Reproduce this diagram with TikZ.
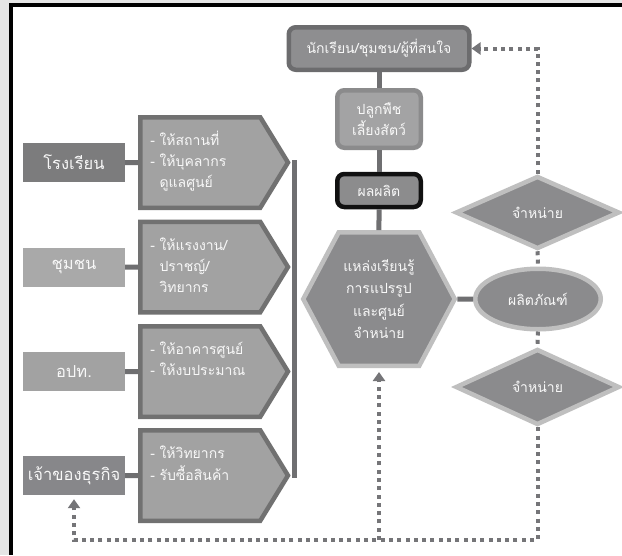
\documentclass[tikz,border=0pt]{standalone}
\usepackage{fontspec}
\newfontfamily\thai[Script=Thai]{Loma}
\usetikzlibrary{shapes.symbols,shapes.geometric,arrows.meta}
\definecolor{bgG}{HTML}{E5E5E5}
\definecolor{cTopF}{HTML}{8E8E90}
\definecolor{cTopD}{HTML}{6C6C6E}
\definecolor{cPlantF}{HTML}{A3A3A4}
\definecolor{cPlantD}{HTML}{8B8B8C}
\definecolor{cProdF}{HTML}{8C8C8D}
\definecolor{cProdD}{HTML}{111111}
\definecolor{cMainF}{HTML}{8B8B8D}
\definecolor{cMainD}{HTML}{BFBFBF}
\definecolor{cPentF}{HTML}{A2A2A2}
\definecolor{cPentD}{HTML}{717171}
\definecolor{cSchool}{HTML}{7C7C7D}
\definecolor{cComm}{HTML}{A9A9A9}
\definecolor{cLao}{HTML}{A2A2A2}
\definecolor{cBiz}{HTML}{87878A}
\definecolor{cConn}{HTML}{6F6F71}
\definecolor{cDot}{HTML}{757578}
\definecolor{cTxt}{HTML}{F8F8F8}
\begin{document}
\begin{tikzpicture}[x=1pt,y=-1pt,
  txt/.style={font=\thai\fontsize{14}{21}\selectfont, text=cTxt, align=center, inner sep=0pt},
  rbox/.style={txt, rounded corners=7pt, line width=4.5pt},
  topbox/.style={rbox, draw=cTopD, fill=cTopF},
  plantbox/.style={rbox, draw=cPlantD, fill=cPlantF},
  prodbox/.style={rbox, draw=cProdD, fill=cProdF},
  mainshape/.style={txt, draw=cMainD, fill=cMainF, line width=4.5pt},
  lbox/.style={txt, font=\thai\fontsize{16.5}{21}\selectfont, minimum width=102, minimum height=39},
  pent/.style={txt, align=left, text width=100, inner xsep=10pt, draw=cPentD, fill=cPentF, line width=4.5pt,
     shape=signal, signal from=nowhere, signal to=east, signal pointer angle=117,
     minimum width=127.5, minimum height=90.5, anchor=west},
  conn/.style={draw=cConn, line width=5pt},
  dots/.style={draw=cDot, line width=4pt, dash pattern=on 4pt off 4.3pt},
  tip/.style={-{Triangle[width=12pt,length=9pt]}}
]
\useasboundingbox (0,0) rectangle (622,555);
\fill[bgG] (0,0) rectangle (622,555);
\fill[black] (9,3) rectangle (622,555);
\fill[white] (13,7) rectangle (622,555);

% centre column
\node[topbox, minimum width=180.5, minimum height=42.5] (aud) at (379,48.5) {นักเรียน/ชุมชน/ผู้ที่สนใจ};
\node[plantbox, minimum width=83.5, minimum height=57.5] (plant) at (379,119) {ปลูกพืช\\เลี้ยงสัตว์};
\node[prodbox, minimum width=83.5, minimum height=33] (prod) at (379,190.5) {ผลผลิต};
\node[mainshape, font=\thai\fontsize{14}{22.5}\selectfont, shape=signal, signal from=nowhere,
  signal to=east and west, signal pointer angle=124, minimum width=151.5, minimum height=133.5]
  (hub) at (379,299) {แหล่งเรียนรู้\\การแปรรูป\\และศูนย์\\จำหน่าย};

% right column
\node[mainshape, shape=ellipse, minimum width=125.5, minimum height=60.5] (goods) at (538,299) {ผลิตภัณฑ์};
\node[mainshape, shape=diamond, aspect=2.2, minimum width=164, minimum height=73] (sell1) at (537.5,212.5) {จำหน่าย};
\node[mainshape, shape=diamond, aspect=2.2, minimum width=164, minimum height=76] (sell2) at (537.5,387) {จำหน่าย};

% left column
\node[lbox, fill=cSchool] (school) at (74,162.5) {โรงเรียน};
\node[lbox, fill=cComm] (comm) at (74,267) {ชุมชน};
\node[lbox, fill=cLao] (lao) at (74,371.5) {อปท.};
\node[lbox, fill=cBiz] (biz) at (74,475.5) {เจ้าของธุรกิจ};

\node[pent] (p1) at (138,162.5) {\strut- ให้สถานที่\\\strut- ให้บุคลากร\\\strut\phantom{- }ดูแลศูนย์};
\node[pent] (p2) at (138,267) {\strut- ให้แรงงาน/\\\strut\phantom{- }ปราชญ์/\\\strut\phantom{- }วิทยากร};
\node[pent] (p3) at (138,371.5) {\strut- ให้อาคารศูนย์\\\strut- ให้งบประมาณ\\\strut};
\node[pent] (p4) at (138,475.5) {\strut- ให้วิทยากร\\\strut- รับซื้อสินค้า\\\strut};

% solid connectors
\draw[conn] (aud) -- (plant);
\draw[conn] (plant) -- (prod);
\draw[conn] (prod) -- (hub);
\draw[conn] (hub) -- (goods);
\draw[conn] (school) -- (p1);
\draw[conn] (comm) -- (p2);
\draw[conn] (lao) -- (p3);
\draw[conn] (biz) -- (p4);
\coordinate (b1) at (294,162.5);
\coordinate (b2) at (294,267);
\coordinate (b3) at (294,371.5);
\coordinate (b4) at (294,475.5);
\draw[conn] ([xshift=6pt]p1.east) -- (b1) -- (b4) -- ([xshift=6pt]p4.east);
\draw[conn] ([xshift=6pt]p2.east) -- (b2);
\draw[conn] ([xshift=6pt]p3.east) -- (b3);

% dotted connectors
\coordinate (br) at (537.5,540);
\coordinate (bm) at (379,540);
\draw[dots, tip] (sell1.north) |- (aud.east);
\draw[dots] (sell1.south) -- (goods.north);
\draw[dots] (goods.south) -- (sell2.north);
\draw[dots, tip, shorten >=4pt] (sell2.south) -- (br) -| (biz.south);
\draw[dots, tip, shorten >=4pt] (bm) -- (hub.south);
\end{tikzpicture}
\end{document}
